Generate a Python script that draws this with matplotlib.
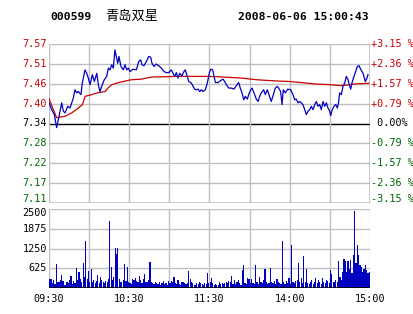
import matplotlib
matplotlib.use('Agg')
import matplotlib.pyplot as plt

# ---- data ----
prev_close = 7.34
pct_max = 3.15

price_left = ['7.57', '7.51', '7.46', '7.40', '7.34', '7.28', '7.22', '7.17', '7.11']
price_right = ['+3.15 %', '+2.36 %', '+1.57 %', '+0.79 %', ' 0.00%',
               '-0.79 %', '-1.57 %', '-2.36 %', '-3.15 %']
vol_labels = ['2500', '1875', '1250', '625']
time_labels = ['09:30', '10:30', '11:30', '14:00', '15:00']
time_ticks = [0, 60, 120, 180, 240]

# minute index (0..240) and price of the intraday line
price_min = [0, 2, 4, 5.7, 7.5, 9.5, 10.7, 12, 14, 15.7, 18.2, 19.4, 20.7, 21.9,
             23.9, 24.9, 26.9, 28.2, 29.4, 30.7, 32.4, 33.9, 35.7, 36.9, 38.1,
             39.4, 41.3, 43.1, 44.4, 45.6, 46.9, 48.1, 49.3, 50.6, 51.4, 52.3,
             53.8, 55.6, 56.8, 58.1, 59.3, 60.6, 62.8, 65.3, 67.1, 68.6, 69.5,
             71, 72.8, 74.5, 76, 77, 78.5, 80.2, 82, 84, 86, 87.7, 89.5, 91.4,
             92.7, 94, 95.2, 96.5, 97.7, 99.4, 100.9, 101.9, 103.4, 104.5, 106.4,
             107.7, 108.9, 110.1, 111.4, 112.7, 113.9, 115.1, 116.9, 118.4, 119.8,
             120.9, 122.4, 123.4, 124.4, 126.4, 128.4, 130.1, 131.4, 132.6, 134.4,
             136.3, 138.3, 140, 141.8, 143, 144.3, 145.6, 146.8, 148.3, 149.3,
             150.8, 151.8, 153.3, 155, 156.3, 157.5, 158.7, 160.5, 161.7, 163.2,
             164.9, 166.2, 167.7, 169.2, 170.7, 171.7, 173.2, 174.2, 175.2, 176.7,
             178.5, 180.7, 182.4, 183.7, 184.9, 186.2, 187.4, 188.6, 189.9, 191.2,
             192.4, 193.7, 194.9, 196.1, 197.4, 198.7, 199.9, 201.1, 202.4, 203.6,
             204.9, 206.1, 207.4, 208.6, 209.9, 210.6, 211.8, 213.1, 214.4, 215.6,
             216.6, 217.3, 218.6, 219.8, 221.1, 222.3, 223.6, 224.8, 225.6, 226.5,
             228, 229.3, 230.5, 231.8, 233, 234.8, 236.5, 237.7, 238.5]
price_val = [7.400, 7.380, 7.366, 7.328, 7.361, 7.400, 7.376, 7.371, 7.390, 7.385,
             7.414, 7.438, 7.429, 7.433, 7.424, 7.458, 7.496, 7.486, 7.472, 7.453,
             7.482, 7.462, 7.486, 7.453, 7.433, 7.448, 7.467, 7.477, 7.501, 7.496,
             7.511, 7.501, 7.554, 7.530, 7.515, 7.535, 7.506, 7.496, 7.511, 7.496,
             7.501, 7.491, 7.498, 7.496, 7.520, 7.525, 7.511, 7.508, 7.520, 7.535,
             7.533, 7.515, 7.506, 7.513, 7.508, 7.501, 7.491, 7.488, 7.488, 7.496,
             7.486, 7.477, 7.488, 7.472, 7.486, 7.479, 7.491, 7.496, 7.477, 7.462,
             7.458, 7.448, 7.440, 7.438, 7.440, 7.433, 7.438, 7.433, 7.438, 7.458,
             7.486, 7.498, 7.496, 7.477, 7.459, 7.459, 7.465, 7.469, 7.462, 7.453,
             7.443, 7.443, 7.440, 7.450, 7.459, 7.443, 7.429, 7.409, 7.419, 7.411,
             7.424, 7.438, 7.443, 7.429, 7.411, 7.404, 7.419, 7.429, 7.438, 7.424,
             7.438, 7.419, 7.404, 7.424, 7.443, 7.448, 7.443, 7.433, 7.395, 7.438,
             7.429, 7.440, 7.438, 7.424, 7.409, 7.411, 7.400, 7.404, 7.400, 7.395,
             7.380, 7.366, 7.376, 7.380, 7.390, 7.380, 7.395, 7.404, 7.390, 7.395,
             7.380, 7.404, 7.390, 7.400, 7.385, 7.376, 7.363, 7.380, 7.390, 7.395,
             7.385, 7.404, 7.429, 7.424, 7.448, 7.458, 7.477, 7.467, 7.448, 7.440,
             7.458, 7.477, 7.491, 7.506, 7.508, 7.498, 7.486, 7.462, 7.472, 7.482]

# average price line
avg_min = [0, 5.7, 12, 17, 22, 25, 27, 32, 37, 42, 44, 47, 52, 61, 69, 76.5, 96,
           120, 131, 144, 156, 169, 180, 189, 199, 209, 219, 229, 239]
avg_val = [7.412, 7.357, 7.361, 7.371, 7.385, 7.395, 7.419, 7.424, 7.430, 7.433,
           7.443, 7.453, 7.459, 7.467, 7.469, 7.475, 7.477, 7.477, 7.475, 7.472,
           7.467, 7.464, 7.462, 7.459, 7.455, 7.453, 7.450, 7.455, 7.457]

# per-minute volume
vol = [300, 280, 150, 260, 120, 760, 200, 180, 250, 420, 220, 110, 90, 200, 150, 260, 380, 140, 210, 170,
       630, 240, 520, 300, 180, 790, 350, 1500, 280, 550, 200, 610, 180, 240, 150, 220, 400, 170, 350, 260,
       200, 150, 230, 180, 300, 2130, 680, 260, 350, 1260, 1070, 1260, 300, 200, 180, 250, 760, 220, 650, 190,
       150, 120, 300, 260, 310, 220, 180, 370, 240, 160, 280, 440, 200, 180, 250, 820, 190, 150, 120, 200,
       160, 130, 180, 110, 150, 220, 140, 170, 100, 210, 160, 230, 180, 340, 150, 120, 260, 140, 110, 180,
       200, 150, 120, 170, 550, 300, 180, 150, 110, 90, 160, 130, 200, 150, 120, 100, 170, 140, 480, 160,
       200, 320, 150, 100, 130, 90, 110, 200, 140, 170, 120, 160, 180, 150, 220, 180, 370, 140, 260, 120,
       200, 240, 150, 110, 580, 740, 170, 120, 330, 270, 150, 300, 170, 120, 740, 180, 140, 350, 200, 150,
       260, 600, 180, 130, 170, 630, 200, 150, 230, 120, 300, 200, 160, 140, 1500, 180, 130, 220, 160, 320,
       140, 1360, 200, 150, 230, 260, 790, 180, 330, 150, 1020, 200, 610, 170, 140, 180, 260, 130, 200, 330,
       150, 240, 180, 130, 310, 200, 170, 260, 220, 150, 580, 450, 200, 180, 260, 180, 840, 360, 250, 500,
       920, 860, 500, 860, 600, 890, 480, 1050, 2440, 790, 1360, 1040, 740, 680, 520, 600, 720, 560, 470, 520]

# ---- styling ----
RED = '#cc0000'
GREEN = '#006600'
BLUE = '#0000c0'
GRID = '#c0c0c0'
MONO = 'DejaVu Sans Mono'
FS = 7.3

W, H = 414, 314
fig = plt.figure(figsize=(W / 100, H / 100), dpi=100)
fig.patch.set_facecolor('white')

lo = prev_close * (1 - pct_max / 100)
hi = prev_close * (1 + pct_max / 100)
levels = [hi - i * (hi - lo) / 8 for i in range(9)]
px = (hi - lo) / 159  # price per pixel

# price panel
ax = fig.add_axes([49 / W, (H - 203) / H, 321 / W, 159 / H])
ax.set_xlim(0, 240)
ax.set_ylim(lo, hi)
for s in ax.spines.values():
    s.set_visible(False)
ax.set_xticks([])
ax.set_yticks([])
for i, lv in enumerate(levels):
    c = 'black' if i in (4, 8) else GRID
    ax.axhline(lv, color=c, lw=1, zorder=1)
for t in range(0, 241, 30):
    ax.axvline(t, color=GRID, lw=1, zorder=1)
ax.axvline(240, color='#303030', lw=1, zorder=1)

ax.plot(avg_min, avg_val, color=RED, lw=0.9, zorder=3)
ax.plot(price_min, price_val, color=BLUE, lw=0.9, zorder=4)

for i, lv in enumerate(levels):
    c = RED if i < 4 else ('black' if i == 4 else GREEN)
    ly = lv + 4.5 * px if i == 8 else lv   # bottom label sits above its line
    ax.text(-0.006, ly, price_left[i], transform=ax.get_yaxis_transform(),
            ha='right', va='center', fontsize=FS, family=MONO, color=c)
    ax.text(1.002, ly, price_right[i], transform=ax.get_yaxis_transform(),
            ha='left', va='center', fontsize=FS, family=MONO, color=c)

# volume panel
axv = fig.add_axes([49 / W, (H - 288) / H, 321 / W, 79 / H])
axv.set_xlim(0, 240)
axv.set_ylim(0, 2500)
for s in axv.spines.values():
    s.set_visible(False)
axv.set_xticks([])
axv.set_yticks([])
for lv in [625, 1250, 1875, 2500]:
    axv.axhline(lv, color=GRID, lw=1, zorder=1)
for t in range(0, 241, 30):
    axv.axvline(t, color=GRID, lw=1, zorder=1)
axv.axhline(0, color='black', lw=1.2, zorder=4)

axv.bar([m + 0.5 for m in range(len(vol))], vol, width=0.9, color=BLUE,
        linewidth=0, zorder=3)

vpx = 2500 / 79
for lab, lv in zip(vol_labels, [2500, 1875, 1250, 625]):
    ly = lv - 4 * vpx if lv == 2500 else lv
    axv.text(-0.006, ly, lab, transform=axv.get_yaxis_transform(),
             ha='right', va='center', fontsize=FS, family=MONO, color='black')
for lab, t in zip(time_labels, time_ticks):
    axv.text(t, -0.133, lab, transform=axv.get_xaxis_transform(),
             ha='center', va='center', fontsize=FS, family=MONO, color='black')

# title row
fig.text(50 / W, 1 - 16.5 / H, '000599', ha='left', va='center',
         fontsize=8.2, family=MONO, fontweight='bold')
fig.text(105 / W, 1 - 16.5 / H, '青岛双星', ha='left', va='center',
         fontsize=9.5, family=['Noto Sans CJK SC', 'DejaVu Sans'])
fig.text(238 / W, 1 - 16.5 / H, '2008-06-06 15:00:43', ha='left', va='center',
         fontsize=8.2, family=MONO, fontweight='bold')

fig.savefig('out.png', dpi=100, facecolor='white')
